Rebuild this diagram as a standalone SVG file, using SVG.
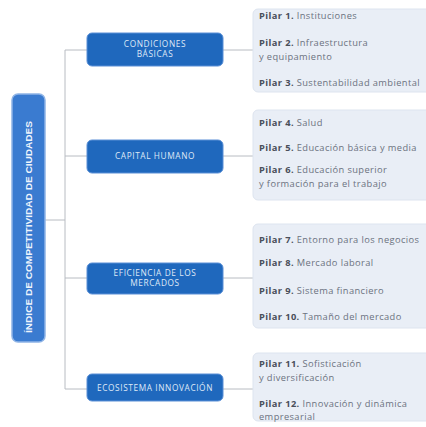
<svg xmlns="http://www.w3.org/2000/svg" width="426" height="427" viewBox="0 0 426 427">
<style>
.bar{fill:#3a7bd0;stroke:#8fb4e6;stroke-width:1.5}
.cat{fill:#1f68bd;stroke:#5a8fd6;stroke-width:1}
.cat-t{font-family:"Open Sans","Liberation Sans",Arial,sans-serif;font-size:8.3px;fill:#dfe9f7;text-anchor:middle;letter-spacing:0.6px}
.bar-t{font-family:"Liberation Sans",Arial,sans-serif;font-size:9px;fill:#eef4fc;text-anchor:middle;font-weight:bold}
.pil{fill:#e9eef6;stroke:#dde4ef;stroke-width:1}
.pt{font-family:"Open Sans","Liberation Sans",Arial,sans-serif;font-size:9.3px;fill:#6b7280;letter-spacing:0.4px}
.pt tspan.b{font-weight:bold;fill:#4a4f5a}
.ln{stroke:#b8bcc2;stroke-width:1;fill:none}
</style>
<rect width="426" height="427" fill="#ffffff"/>
<g id="connectors">
<path class="ln" d="M45 220 H65 M65 50 V389 M65 50 H87 M223 50 H253 M65 156 H87 M223 156 H253 M65 278 H87 M223 278 H253 M65 389 H87 M223 389 H253"/>
</g>
<g id="indice">
<rect class="bar" x="12" y="94" width="33" height="248" rx="6"/>
<text class="bar-t" transform="translate(32,227) rotate(-90)" textLength="212" lengthAdjust="spacingAndGlyphs">ÍNDICE DE COMPETITIVIDAD DE CIUDADES</text>
</g>
<g id="cat1">
<rect class="cat" x="87" y="33" width="136" height="33" rx="5"/>
<text class="cat-t" x="155" y="47">CONDICIONES</text>
<text class="cat-t" x="155" y="57">BÁSICAS</text>
</g>
<g id="cat2">
<rect class="cat" x="87" y="140" width="136" height="33" rx="5"/>
<text class="cat-t" x="155" y="159">CAPITAL HUMANO</text>
</g>
<g id="cat3">
<rect class="cat" x="87" y="263" width="136" height="31" rx="5"/>
<text class="cat-t" x="155" y="276">EFICIENCIA DE LOS</text>
<text class="cat-t" x="155" y="286">MERCADOS</text>
</g>
<g id="cat4">
<rect class="cat" x="87" y="374" width="136" height="27" rx="5"/>
<text class="cat-t" x="155" y="391">ECOSISTEMA INNOVACIÓN</text>
</g>
<g id="pil1">
<rect class="pil" x="253" y="9" width="180" height="83" rx="5"/>
<text class="pt" x="259" y="19"><tspan class="b">Pilar 1.</tspan> Instituciones</text>
<text class="pt" x="259" y="46"><tspan class="b">Pilar 2.</tspan> Infraestructura</text>
<text class="pt" x="259" y="60">y equipamiento</text>
<text class="pt" x="259" y="86"><tspan class="b">Pilar 3.</tspan> Sustentabilidad ambiental</text>
</g>
<g id="pil2">
<rect class="pil" x="253" y="110" width="180" height="90" rx="5"/>
<text class="pt" x="259" y="126"><tspan class="b">Pilar 4.</tspan> Salud</text>
<text class="pt" x="259" y="151"><tspan class="b">Pilar 5.</tspan> Educación básica y media</text>
<text class="pt" x="259" y="173"><tspan class="b">Pilar 6.</tspan> Educación superior</text>
<text class="pt" x="259" y="187">y formación para el trabajo</text>
</g>
<g id="pil3">
<rect class="pil" x="253" y="224" width="180" height="104" rx="5"/>
<text class="pt" x="259" y="243"><tspan class="b">Pilar 7.</tspan> Entorno para los negocios</text>
<text class="pt" x="259" y="266"><tspan class="b">Pilar 8.</tspan> Mercado laboral</text>
<text class="pt" x="259" y="294"><tspan class="b">Pilar 9.</tspan> Sistema financiero</text>
<text class="pt" x="259" y="320"><tspan class="b">Pilar 10.</tspan> Tamaño del mercado</text>
</g>
<g id="pil4">
<rect class="pil" x="253" y="353" width="180" height="68" rx="5"/>
<text class="pt" x="259" y="367"><tspan class="b">Pilar 11.</tspan> Sofisticación</text>
<text class="pt" x="259" y="381">y diversificación</text>
<text class="pt" x="259" y="407"><tspan class="b">Pilar 12.</tspan> Innovación y dinámica</text>
<text class="pt" x="259" y="420">empresarial</text>
</g>
</svg>
